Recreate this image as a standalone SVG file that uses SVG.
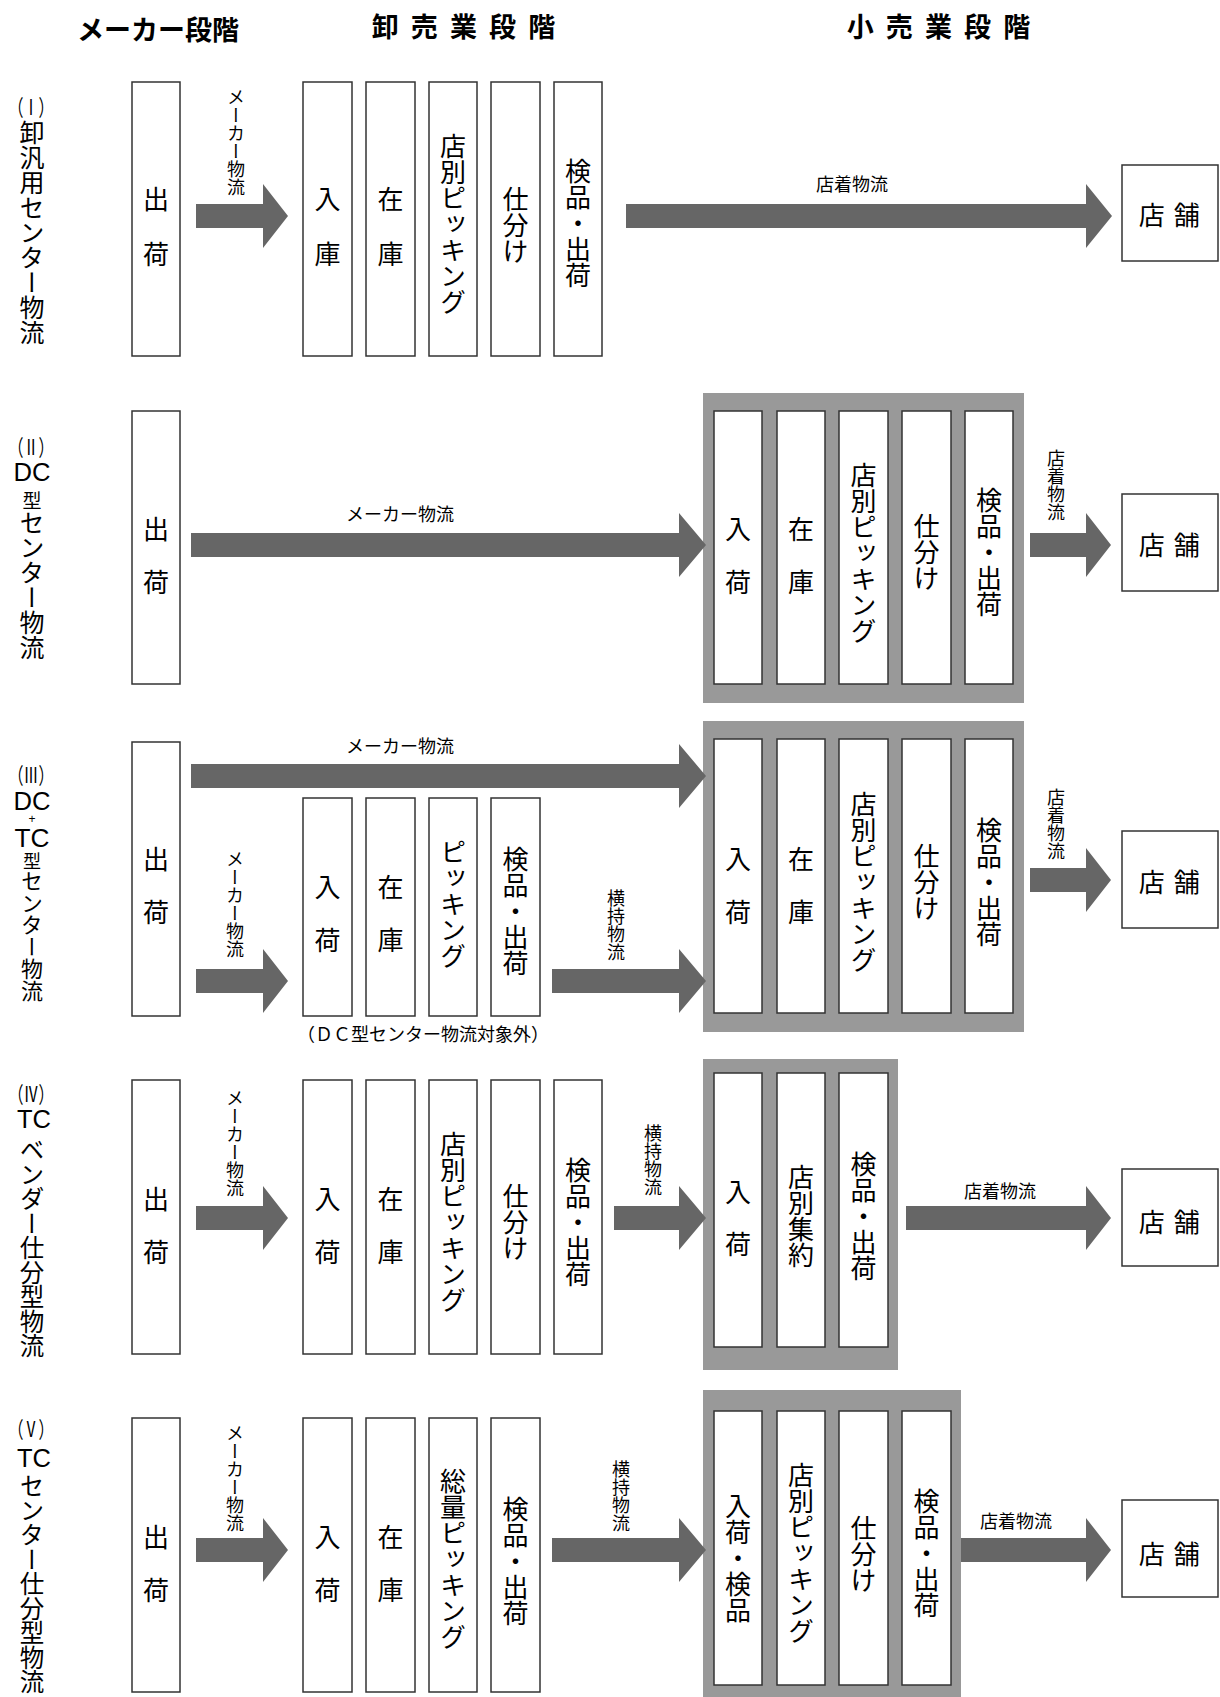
<svg xmlns="http://www.w3.org/2000/svg" width="1220" height="1697" viewBox="0 0 1220 1697">
<style>
text{font-family:"Noto Sans CJK JP","Noto Sans",sans-serif;fill:#000}
.t{font-size:27px;font-weight:bold;text-anchor:middle;dominant-baseline:central}
.b{fill:#fff;stroke:#333;stroke-width:1.5}
.c{fill:#999}
.ar{fill:#666}
.h{font-size:26px;text-anchor:middle;dominant-baseline:central}
.v{font-size:26px;text-anchor:middle;dominant-baseline:central;writing-mode:vertical-rl}
.lv{font-size:18px;text-anchor:middle;dominant-baseline:central;writing-mode:vertical-rl}
.lh{font-size:18px;text-anchor:middle;dominant-baseline:central}
.sv{font-size:25px;text-anchor:middle;dominant-baseline:central;writing-mode:vertical-rl}
.sh{font-size:22px;text-anchor:middle;dominant-baseline:central}
.lat{font-family:"Liberation Sans",sans-serif;font-size:26px;text-anchor:middle;dominant-baseline:central}
.st{font-size:26px;text-anchor:middle;dominant-baseline:central;letter-spacing:1.5px}
</style>
<g id="titles">
<text class="t" x="158" y="28">メーカー段階</text>
<text class="t" x="465" y="25" style="letter-spacing:3px">卸 売 業 段 階</text>
<text class="t" x="940" y="25" style="letter-spacing:3px">小 売 業 段 階</text>
</g>
<g id="row-labels">
<g id="label-1">
<text class="sh" x="31" y="105" textLength="45" lengthAdjust="spacingAndGlyphs">（Ⅰ）</text>
<text class="sv" x="32" y="232">卸汎用センター物流</text>
</g>
<g id="label-2">
<text class="sh" x="31" y="445" textLength="45" lengthAdjust="spacingAndGlyphs">（Ⅱ）</text>
<text class="lat" x="32" y="472" textLength="37" lengthAdjust="spacingAndGlyphs">DC</text>
<text x="32" y="499" style="font-size:19px;text-anchor:middle;dominant-baseline:central">型</text>
<text class="sv" x="32" y="585">センター物流</text>
</g>
<g id="label-3">
<text class="sh" x="31" y="773" textLength="45" lengthAdjust="spacingAndGlyphs">（Ⅲ）</text>
<text class="lat" x="32" y="801" textLength="37" lengthAdjust="spacingAndGlyphs">DC</text>
<text x="32" y="819" style="font-family:'Liberation Sans',sans-serif;font-size:12px;text-anchor:middle;dominant-baseline:central">+</text>
<text class="lat" x="32" y="838" textLength="35" lengthAdjust="spacingAndGlyphs">TC</text>
<text x="32" y="860" style="font-size:18px;text-anchor:middle;dominant-baseline:central">型</text>
<text class="sv" x="32" y="936" style="font-size:22px">センター物流</text>
</g>
<g id="label-4">
<text class="sh" x="31" y="1092" textLength="45" lengthAdjust="spacingAndGlyphs">（Ⅳ）</text>
<text class="lat" x="34" y="1119" textLength="34" lengthAdjust="spacingAndGlyphs">TC</text>
<text class="sv" x="32" y="1248" style="font-size:24.5px">ベンダー仕分型物流</text>
</g>
<g id="label-5">
<text class="sh" x="31" y="1427" textLength="45" lengthAdjust="spacingAndGlyphs">（Ⅴ）</text>
<text class="lat" x="34" y="1458" textLength="34" lengthAdjust="spacingAndGlyphs">TC</text>
<text class="sv" x="32" y="1584" style="font-size:24.5px">センター仕分型物流</text>
</g>
</g>
<g id="containers">
<rect class="c" x="703" y="393" width="321" height="310"/>
<rect class="c" x="703" y="721" width="321" height="311"/>
<rect class="c" x="703" y="1059" width="195" height="311"/>
<rect class="c" x="703" y="1390" width="258" height="307"/>
</g>
<g id="connectors">
<path class="ar" d="M196 204H263V184L288 216L263 248V228H196Z"/>
<path class="ar" d="M626 204H1086V184L1112 216L1086 248V228H626Z"/>
<path class="ar" d="M191 533H679V513L706 545L679 577V557H191Z"/>
<path class="ar" d="M1030 533H1086V513L1111 545L1086 577V557H1030Z"/>
<path class="ar" d="M191 764H679V744L706 776L679 808V788H191Z"/>
<path class="ar" d="M196 969H263V949L288 981L263 1013V993H196Z"/>
<path class="ar" d="M552 969H679V949L706 981L679 1013V993H552Z"/>
<path class="ar" d="M1030 868H1086V848L1111 880L1086 912V892H1030Z"/>
<path class="ar" d="M196 1206H263V1186L288 1218L263 1250V1230H196Z"/>
<path class="ar" d="M614 1206H679V1186L706 1218L679 1250V1230H614Z"/>
<path class="ar" d="M906 1206H1086V1186L1111 1218L1086 1250V1230H906Z"/>
<path class="ar" d="M196 1538H263V1518L288 1550L263 1582V1562H196Z"/>
<path class="ar" d="M552 1538H679V1518L706 1550L679 1582V1562H552Z"/>
<path class="ar" d="M961 1538H1086V1518L1111 1550L1086 1582V1562H961Z"/>
<text class="lv" x="236" y="142">メーカー物流</text>
<text class="lh" x="852" y="183">店着物流</text>
<text class="lh" x="400" y="513">メーカー物流</text>
<text class="lv" x="1056" y="485">店着物流</text>
<text class="lh" x="400" y="745">メーカー物流</text>
<text class="lv" x="235" y="904">メーカー物流</text>
<text class="lv" x="616" y="925">横持物流</text>
<text class="lv" x="1056" y="824">店着物流</text>
<text class="lv" x="235" y="1143">メーカー物流</text>
<text class="lv" x="653" y="1160">横持物流</text>
<text class="lh" x="1000" y="1190">店着物流</text>
<text class="lv" x="235" y="1478">メーカー物流</text>
<text class="lv" x="621" y="1496">横持物流</text>
<text class="lh" x="1016" y="1520">店着物流</text>
</g>
<!-- Row I -->
<g id="r1-maker"><rect class="b" x="132" y="82" width="48" height="274"/><text class="h" x="156" y="197">出</text><text class="h" x="156" y="252">荷</text></g>
<g id="r1-w1"><rect class="b" x="303" y="82" width="49" height="274"/><text class="h" x="327.5" y="197">入</text><text class="h" x="327.5" y="252">庫</text></g>
<g id="r1-w2"><rect class="b" x="366" y="82" width="49" height="274"/><text class="h" x="390.5" y="197">在</text><text class="h" x="390.5" y="252">庫</text></g>
<g id="r1-w3"><rect class="b" x="429" y="82" width="48" height="274"/><text class="v" x="453" y="224">店別ピッキング</text></g>
<g id="r1-w4"><rect class="b" x="491" y="82" width="49" height="274"/><text class="v" x="515.5" y="225">仕分け</text></g>
<g id="r1-w5"><rect class="b" x="554" y="82" width="48" height="274"/><text class="v" x="578" y="223">検品・出荷</text></g>
<g id="r1-store"><rect class="b" x="1122" y="165" width="96" height="96"/><text class="st" x="1170" y="213">店 舗</text></g>
<!-- Row II -->
<g id="r2-maker"><rect class="b" x="132" y="411" width="48" height="273"/><text class="h" x="156" y="527">出</text><text class="h" x="156" y="580">荷</text></g>
<g id="r2-r1"><rect class="b" x="714" y="411" width="48" height="273"/><text class="h" x="738" y="527">入</text><text class="h" x="738" y="580">荷</text></g>
<g id="r2-r2"><rect class="b" x="777" y="411" width="48" height="273"/><text class="h" x="801" y="527">在</text><text class="h" x="801" y="580">庫</text></g>
<g id="r2-r3"><rect class="b" x="839" y="411" width="49" height="273"/><text class="v" x="863.5" y="553">店別ピッキング</text></g>
<g id="r2-r4"><rect class="b" x="902" y="411" width="49" height="273"/><text class="v" x="926.5" y="552">仕分け</text></g>
<g id="r2-r5"><rect class="b" x="965" y="411" width="48" height="273"/><text class="v" x="989" y="552">検品・出荷</text></g>
<g id="r2-store"><rect class="b" x="1122" y="494" width="96" height="97"/><text class="st" x="1170" y="543">店 舗</text></g>
<!-- Row III -->
<g id="r3-maker"><rect class="b" x="132" y="742" width="48" height="274"/><text class="h" x="156" y="857">出</text><text class="h" x="156" y="910">荷</text></g>
<g id="r3-w1"><rect class="b" x="303" y="798" width="49" height="218"/><text class="h" x="327.5" y="885">入</text><text class="h" x="327.5" y="938">荷</text></g>
<g id="r3-w2"><rect class="b" x="366" y="798" width="49" height="218"/><text class="h" x="390.5" y="885">在</text><text class="h" x="390.5" y="938">庫</text></g>
<g id="r3-w3"><rect class="b" x="429" y="798" width="48" height="218"/><text class="v" x="453" y="904">ピッキング</text></g>
<g id="r3-w4"><rect class="b" x="491" y="798" width="49" height="218"/><text class="v" x="515.5" y="911">検品・出荷</text></g>
<text id="r3-caption" x="423" y="1033" style="font-size:18px;text-anchor:middle;dominant-baseline:central">（ＤＣ型センター物流対象外）</text>
<g id="r3-r1"><rect class="b" x="714" y="739" width="48" height="274"/><text class="h" x="738" y="857">入</text><text class="h" x="738" y="910">荷</text></g>
<g id="r3-r2"><rect class="b" x="777" y="739" width="48" height="274"/><text class="h" x="801" y="857">在</text><text class="h" x="801" y="910">庫</text></g>
<g id="r3-r3"><rect class="b" x="839" y="739" width="49" height="274"/><text class="v" x="863.5" y="882">店別ピッキング</text></g>
<g id="r3-r4"><rect class="b" x="902" y="739" width="49" height="274"/><text class="v" x="926.5" y="882">仕分け</text></g>
<g id="r3-r5"><rect class="b" x="965" y="739" width="48" height="274"/><text class="v" x="989" y="882">検品・出荷</text></g>
<g id="r3-store"><rect class="b" x="1122" y="831" width="96" height="97"/><text class="st" x="1170" y="880">店 舗</text></g>
<!-- Row IV -->
<g id="r4-maker"><rect class="b" x="132" y="1080" width="48" height="274"/><text class="h" x="156" y="1197">出</text><text class="h" x="156" y="1250">荷</text></g>
<g id="r4-w1"><rect class="b" x="303" y="1080" width="49" height="274"/><text class="h" x="327.5" y="1197">入</text><text class="h" x="327.5" y="1250">荷</text></g>
<g id="r4-w2"><rect class="b" x="366" y="1080" width="49" height="274"/><text class="h" x="390.5" y="1197">在</text><text class="h" x="390.5" y="1250">庫</text></g>
<g id="r4-w3"><rect class="b" x="429" y="1080" width="48" height="274"/><text class="v" x="453" y="1222">店別ピッキング</text></g>
<g id="r4-w4"><rect class="b" x="491" y="1080" width="49" height="274"/><text class="v" x="515.5" y="1222">仕分け</text></g>
<g id="r4-w5"><rect class="b" x="554" y="1080" width="48" height="274"/><text class="v" x="578" y="1222">検品・出荷</text></g>
<g id="r4-r1"><rect class="b" x="714" y="1073" width="48" height="274"/><text class="h" x="738" y="1190">入</text><text class="h" x="738" y="1242">荷</text></g>
<g id="r4-r2"><rect class="b" x="777" y="1073" width="48" height="274"/><text class="v" x="801" y="1216">店別集約</text></g>
<g id="r4-r3"><rect class="b" x="839" y="1073" width="49" height="274"/><text class="v" x="863.5" y="1216">検品・出荷</text></g>
<g id="r4-store"><rect class="b" x="1122" y="1169" width="96" height="97"/><text class="st" x="1170" y="1220">店 舗</text></g>
<!-- Row V -->
<g id="r5-maker"><rect class="b" x="132" y="1418" width="48" height="274"/><text class="h" x="156" y="1535">出</text><text class="h" x="156" y="1588">荷</text></g>
<g id="r5-w1"><rect class="b" x="303" y="1418" width="49" height="274"/><text class="h" x="327.5" y="1535">入</text><text class="h" x="327.5" y="1588">荷</text></g>
<g id="r5-w2"><rect class="b" x="366" y="1418" width="49" height="274"/><text class="h" x="390.5" y="1535">在</text><text class="h" x="390.5" y="1588">庫</text></g>
<g id="r5-w3"><rect class="b" x="429" y="1418" width="48" height="274"/><text class="v" x="453" y="1559">総量ピッキング</text></g>
<g id="r5-w4"><rect class="b" x="491" y="1418" width="49" height="274"/><text class="v" x="515.5" y="1561">検品・出荷</text></g>
<g id="r5-r1"><rect class="b" x="714" y="1411" width="48" height="274"/><text class="v" x="738" y="1558">入荷・検品</text></g>
<g id="r5-r2"><rect class="b" x="777" y="1411" width="48" height="274"/><text class="v" x="801" y="1553">店別ピッキング</text></g>
<g id="r5-r3"><rect class="b" x="839" y="1411" width="49" height="274"/><text class="v" x="863.5" y="1554">仕分け</text></g>
<g id="r5-r4"><rect class="b" x="902" y="1411" width="49" height="274"/><text class="v" x="926.5" y="1553">検品・出荷</text></g>
<g id="r5-store"><rect class="b" x="1122" y="1500" width="96" height="97"/><text class="st" x="1170" y="1552">店 舗</text></g>
</svg>
